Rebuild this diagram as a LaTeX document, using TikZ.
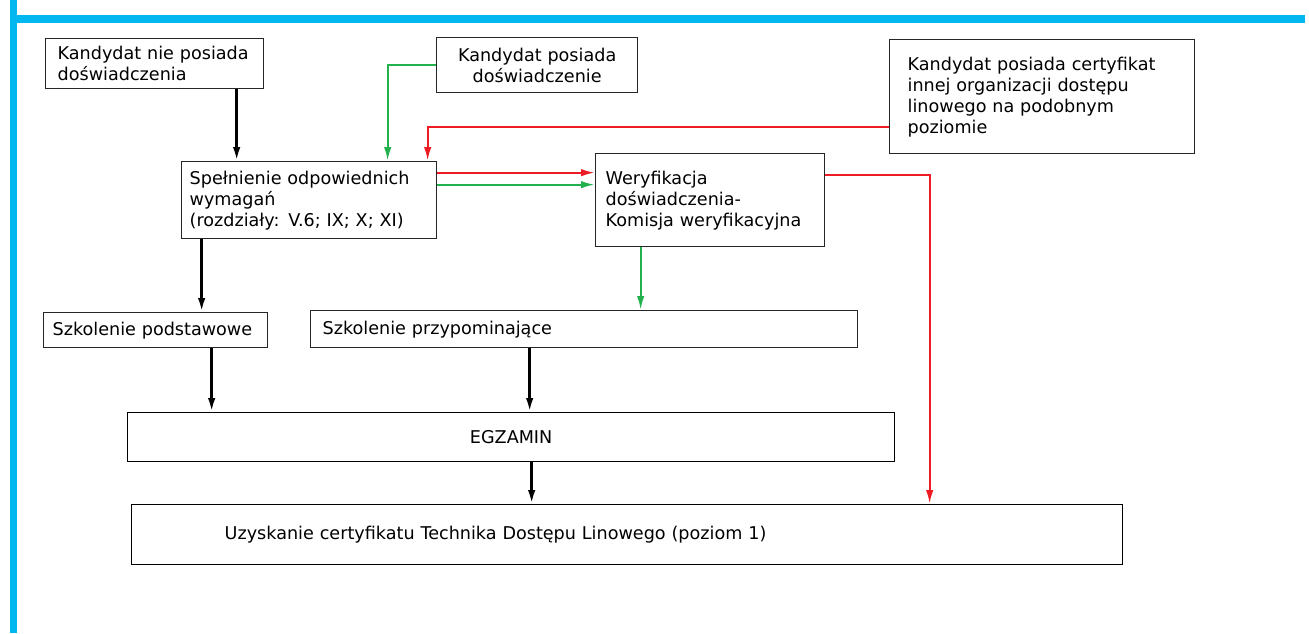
\documentclass[tikz,border=0pt]{standalone}
\usepackage{fontspec}
\setmainfont{DejaVu Sans}
\usetikzlibrary{arrows.meta}
\definecolor{linered}{RGB}{237,28,36}
\definecolor{linegreen}{RGB}{34,177,76}
\definecolor{frameblue}{RGB}{0,183,239}

\begin{document}
\begin{tikzpicture}[x=1pt, y=-1pt,
	box/.style={draw=black!85, line width=1.3pt, anchor=north west, inner ysep=0pt, font=\fontsize{17.6}{21}\selectfont},
	flow/.style={line width=2.6pt, -{Latex[length=14pt,width=7.5pt]}},
	redflow/.style={flow, linered, line width=2.2pt},
	greenflow/.style={flow, linegreen, line width=2.2pt}]
	
	\useasboundingbox (0,0) rectangle (1309,633);
	\fill[frameblue] (10,0) rectangle (17,633);
	\fill[frameblue] (10,15) rectangle (1305,23);
	
	% boxes
	\node[box, align=left, inner xsep=12pt, text width=194pt, minimum height=50pt] (nodisp) at (45,38) {Kandydat nie posiada\\doświadczenia};
	\node[box, align=center, inner xsep=12pt, text width=177pt, minimum height=55pt] (zdoswi) at (436,37) {Kandydat posiada\\doświadczenie};
	\node[box, align=left, inner xsep=18pt, text width=269pt, minimum height=114pt] (certyf) at (889,39) {Kandydat posiada certyfikat\\innej organizacji dostępu\\linowego na podobnym\\poziomie};
	\node[box, align=left, inner xsep=8pt, text width=239pt, minimum height=77pt] (wymag) at (181,161) {Spełnienie odpowiednich\\wymagań\\(rozdziały: V.6; IX; X; XI)};
	\node[box, align=left, inner xsep=10pt, text width=209pt, minimum height=93pt] (weryf) at (595,153) {Weryfikacja\\doświadczenia-\\Komisja weryfikacyjna};
	\node[box, align=left, inner xsep=9pt, text width=206pt, minimum height=35pt] (podst) at (43,312) {Szkolenie podstawowe};
	\node[box, align=left, inner xsep=12pt, text width=523pt, minimum height=37pt] (przyp) at (310,310) {Szkolenie przypominające};
	\node[box, draw=black, align=center, inner xsep=6pt, text width=755pt, minimum height=49pt] (egzam) at (127,412) {EGZAMIN};
	\node[box, draw=black, align=left, inner xsep=93pt, text width=805pt, minimum height=60pt] (uzysk) at (131,504) {Uzyskanie certyfikatu Technika Dostępu Linowego (poziom 1)};
	
	% connectors
	\draw[flow] ([xshift=82pt]nodisp.south) -- ([xshift=-72.5pt]wymag.north);
	\draw[greenflow] (zdoswi.west) -| ([xshift=78.5pt]wymag.north);
	\draw[redflow] ([yshift=-30pt]certyf.west) -| ([xshift=118.5pt]wymag.north);
	\draw[redflow] ([yshift=27.5pt]wymag.east) -- ([yshift=27.5pt]weryf.west);
	\draw[greenflow] ([yshift=15.5pt]wymag.east) -- ([yshift=15.5pt]weryf.west);
	\draw[redflow] ([yshift=25.5pt]weryf.east) -| ([xshift=302.5pt]uzysk.north);
	\draw[greenflow] ([xshift=-69.5pt]weryf.south) -- ([xshift=-69.5pt]weryf.south |- przyp.north);
	\draw[flow] ([xshift=-107.5pt]wymag.south) -- ([xshift=46pt]podst.north);
	\draw[flow] ([xshift=56pt]podst.south) -- ([xshift=-299.5pt]egzam.north);
	\draw[flow] ([xshift=-54.5pt]przyp.south) -- ([xshift=18.5pt]egzam.north);
	\draw[flow] ([xshift=20.5pt]egzam.south) -- ([xshift=-95.5pt]uzysk.north);
	
\end{tikzpicture}
\end{document}
